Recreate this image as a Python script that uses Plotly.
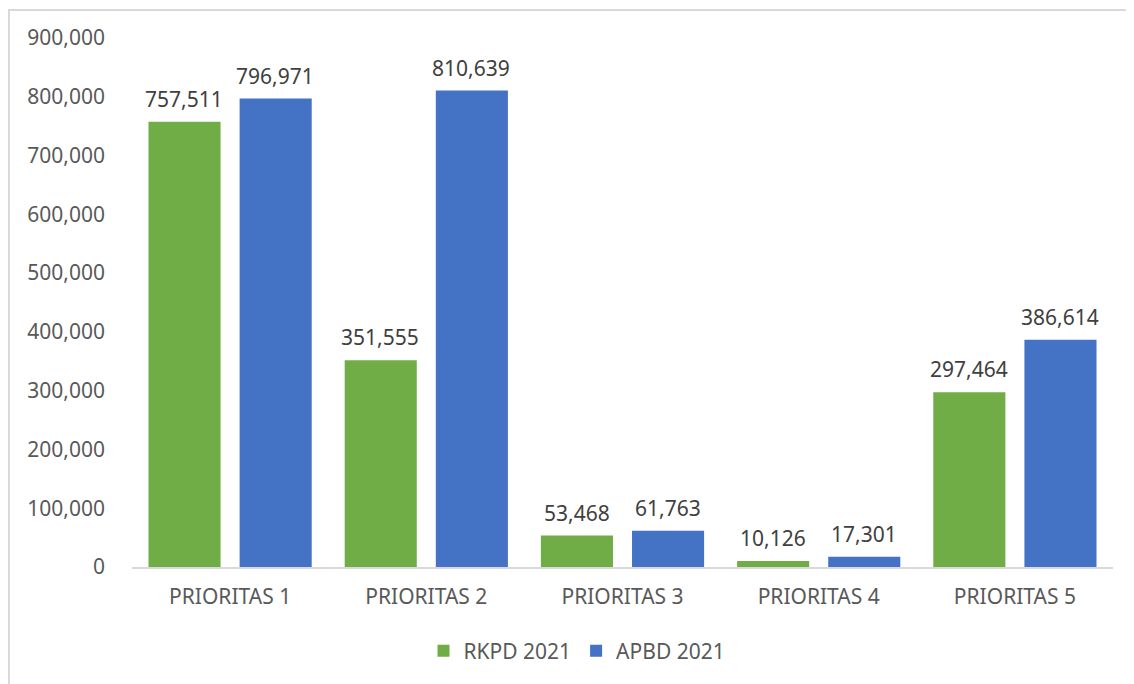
import plotly.graph_objects as go

categories = ["PRIORITAS 1", "PRIORITAS 2", "PRIORITAS 3", "PRIORITAS 4", "PRIORITAS 5"]
rkpd_2021 = [757511, 351555, 53468, 10126, 297464]
apbd_2021 = [796971, 810639, 61763, 17301, 386614]
y_ticks = [0, 100000, 200000, 300000, 400000, 500000, 600000, 700000, 800000, 900000]

GREEN = "#70AD47"
BLUE = "#4472C4"
TXT = "#595959"
FONT = "Noto Sans"
FS = 21

fig = go.Figure()
fig.add_trace(go.Bar(name="RKPD 2021", x=categories, y=rkpd_2021, marker_color=GREEN, marker_line_width=0))
fig.add_trace(go.Bar(name="APBD 2021", x=categories, y=apbd_2021, marker_color=BLUE, marker_line_width=0))

# page body has an 8px margin; compensate so the picture lands in place
OFF = 8
W, H = 1134 - OFF, 684 - OFF
L, R, T, B = 132 - OFF, 21, 38 - OFF, 117
pw, ph = W - L - R, H - T - B

annotations = []
for c, v in zip(categories, rkpd_2021):
    annotations.append(dict(x=c, y=v, text=f"{v:,}", showarrow=False, xshift=-46, yshift=7,
                            yanchor="bottom", font=dict(family=FONT, size=FS, color="#404040")))
for c, v in zip(categories, apbd_2021):
    annotations.append(dict(x=c, y=v, text=f"{v:,}", showarrow=False, xshift=45, yshift=7,
                            yanchor="bottom", font=dict(family=FONT, size=FS, color="#404040")))

def px(xp):
    return (xp - OFF - L) / pw

def py(yp):
    return (H - B - (yp - OFF)) / ph

fig.update_layout(
    width=W, height=H,
    margin=dict(l=L, r=R, t=T, b=B, autoexpand=False),
    paper_bgcolor="white", plot_bgcolor="white",
    barmode="group", bargap=0.071, bargroupgap=0.209,
    font=dict(family=FONT, size=FS, color=TXT),
    showlegend=True,
    legend=dict(orientation="h", x=px(577), xanchor="center", y=py(651), yanchor="middle",
                font=dict(family=FONT, size=FS, color=TXT), itemwidth=30, traceorder="normal"),
    xaxis=dict(showline=True, linecolor="#d9d9d9", linewidth=1.5, showgrid=False, ticks="",
               ticklabelstandoff=10, tickfont=dict(family=FONT, size=FS, color=TXT)),
    yaxis=dict(range=[0, 900000], tickvals=y_ticks, tickformat=",", showgrid=False, showline=False,
               zeroline=False, ticks="", ticklabelstandoff=26,
               tickfont=dict(family=FONT, size=FS, color=TXT)),
    annotations=annotations,
    shapes=[dict(type="rect", xref="paper", yref="paper",
                 x0=px(9), x1=px(1150), y0=py(700), y1=py(10),
                 line=dict(color="#d9d9d9", width=2), fillcolor="rgba(0,0,0,0)", layer="below")],
)

fig.write_html("out.html")
